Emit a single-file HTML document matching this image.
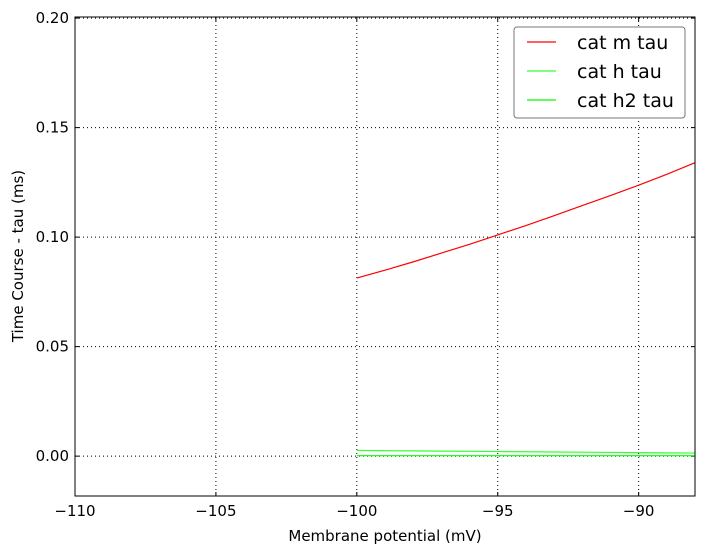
<!DOCTYPE html>
<html><head><meta charset="utf-8"><style>
body{margin:0;background:#fff;font-family:"DejaVu Sans","Liberation Sans",sans-serif;}
svg text{font-family:"DejaVu Sans","Liberation Sans",sans-serif;}
</style></head><body>
<svg id="chart" width="705" height="554"></svg>
<script>
const xs=[-100,-99,-98,-97,-96,-95,-94,-93,-92,-91,-90,-89,-88];
const mTau=[0.0813,0.0849,0.0887,0.0927,0.0967,0.1010,0.1053,0.1098,0.1144,0.1190,0.1237,0.1287,0.1340];
const hTau=[0.0026,0.0025,0.0024,0.0023,0.0022,0.0021,0.0020,0.0019,0.0018,0.0017,0.0016,0.0015,0.0014];
const h2Tau=[0.0002,0.0002,0.0002,0.0002,0.0002,0.0002,0.0002,0.0002,0.0002,0.0002,0.0002,0.0002,0.0002];
const xTicks=[-110,-105,-100,-95,-90];
const yTicks=[0,0.05,0.1,0.15,0.2];
const yLabels=["0.00","0.05","0.10","0.15","0.20"];
const L=75,R=695,T=17,B=496,x0=-110,x1=-88,y0=-0.0182,y1=0.2005;
const X=v=>L+(v-x0)/(x1-x0)*(R-L), Y=v=>B-(v-y0)/(y1-y0)*(B-T);
const svg=document.getElementById('chart');const NS='http://www.w3.org/2000/svg';
function mk(t,a,p){const e=document.createElementNS(NS,t);for(const k in a)e.setAttribute(k,a[k]);(p||svg).appendChild(e);return e;}
xTicks.forEach((v,i)=>{const x=X(v);
 const g=mk('line',{x1:x,x2:x,y1:T,y2:B,stroke:'#000','stroke-dasharray':'1,3','stroke-width':1});
 
 mk('line',{x1:x,x2:x,y1:B,y2:B-4,stroke:'#000'});mk('line',{x1:x,x2:x,y1:T,y2:T+4,stroke:'#000'});
 const t=mk('text',{x:x,y:B+20,'text-anchor':'middle','font-size':15});t.textContent='\u2212'+Math.abs(v);
 });
yTicks.forEach((v,i)=>{const y=Y(v);
 const g=mk('line',{x1:L,x2:R,y1:y,y2:y,stroke:'#000','stroke-dasharray':'1,3','stroke-width':1});
 
 mk('line',{x1:L,x2:L+4,y1:y,y2:y,stroke:'#000'});mk('line',{x1:R,x2:R-4,y1:y,y2:y,stroke:'#000'});
 const t=mk('text',{x:L-6,y:y+5,'text-anchor':'end','font-size':15});t.textContent=yLabels[i];
 });
function series(arr,col,name){const p=mk('polyline',{points:xs.map((v,i)=>X(v)+','+Y(arr[i])).join(' '),fill:'none',stroke:col,'stroke-width':1.2});
 }
series(mTau,'#ff0000','cat-m-tau-line');series(hTau,'#33ff33','cat-h-tau-line');series(h2Tau,'#00ff00','cat-h2-tau-line');
const fr=mk('rect',{x:L,y:T,width:R-L,height:B-T,fill:'none',stroke:'#000','stroke-width':1});

const xt=mk('text',{x:385,y:541,'text-anchor':'middle','font-size':15});xt.textContent='Membrane potential (mV)';

const yt=mk('text',{x:23,y:256,'text-anchor':'middle','font-size':15,transform:'rotate(-90 23 256)'});yt.textContent='Time Course - tau (ms)';

const lg=mk('g',{});
mk('rect',{x:514,y:27,width:171,height:91,rx:3,fill:'#fff',stroke:'#777'},lg);
[['cat m tau','#ff0000'],['cat h tau','#33ff33'],['cat h2 tau','#00ff00']].forEach((e,i)=>{const y=42+i*29;
 const ln=mk('line',{x1:527,x2:556,y1:y,y2:y,stroke:e[1],'stroke-width':1.2},lg);
 
 const t=mk('text',{x:577,y:y+7,'font-size':19},lg);t.textContent=e[0];
 });
</script>
</body></html>
